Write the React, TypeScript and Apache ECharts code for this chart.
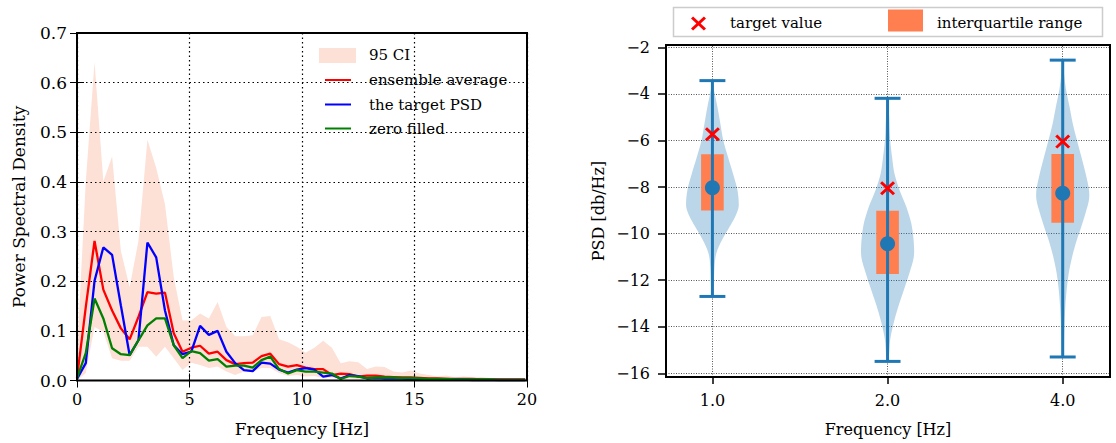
import React, { useEffect, useRef } from 'react';
import * as echarts from 'echarts';

const FONT = 'DejaVu Serif';

// ---------- left panel data ----------
const freqHz = [0, 0.39, 0.78, 1.17, 1.56, 1.95, 2.34, 2.73, 3.13, 3.52, 3.91, 4.30, 4.69, 5.08, 5.47, 5.86, 6.25, 6.64, 7.03, 7.42, 7.81, 8.20, 8.59, 8.98, 9.38, 9.77, 10.16, 10.55, 10.94, 11.33, 11.72, 12.11, 12.50, 12.89, 13.28, 13.67, 14.06, 14.45, 14.84, 15.23, 15.63, 16.02, 16.41, 16.80, 17.19, 17.58, 17.97, 18.36, 18.75, 19.14, 19.53, 19.92];

const ensembleAverage = [0.005, 0.148, 0.281, 0.183, 0.141, 0.105, 0.083, 0.128, 0.178, 0.175,
  0.177, 0.095, 0.058, 0.066, 0.07, 0.054, 0.058, 0.041, 0.033, 0.035,
  0.036, 0.049, 0.054, 0.033, 0.028, 0.031, 0.026, 0.023, 0.023, 0.011,
  0.014, 0.013, 0.008, 0.01, 0.01, 0.008, 0.007, 0.006, 0.006, 0.005,
  0.004, 0.004, 0.003, 0.003, 0.003, 0.003, 0.002, 0.002, 0.002, 0.002, 0.002, 0.002];

const targetPsd = [0.003, 0.035, 0.201, 0.268, 0.253, 0.151, 0.051, 0.081, 0.278, 0.248,
  0.141, 0.071, 0.053, 0.058, 0.11, 0.092, 0.1, 0.058, 0.035, 0.021,
  0.019, 0.036, 0.034, 0.022, 0.016, 0.022, 0.025, 0.022, 0.008, 0.011,
  0.004, 0.011, 0.009, 0.004, 0.005, 0.004, 0.004, 0.004, 0.003, 0.003,
  0.002, 0.002, 0.002, 0.002, 0.002, 0.001, 0.001, 0.001, 0.001, 0.001, 0.001, 0.001];

const zeroFilled = [0.005, 0.055, 0.165, 0.125, 0.065, 0.053, 0.051, 0.081, 0.111, 0.125,
  0.125, 0.071, 0.045, 0.059, 0.055, 0.04, 0.043, 0.028, 0.03, 0.03,
  0.026, 0.041, 0.048, 0.023, 0.014, 0.021, 0.018, 0.018, 0.016, 0.014,
  0.003, 0.009, 0.008, 0.005, 0.006, 0.006, 0.006, 0.005, 0.005, 0.004,
  0.003, 0.003, 0.003, 0.002, 0.002, 0.002, 0.002, 0.002, 0.001, 0.001, 0.001, 0.001];

const ciUpper = [0.05, 0.40, 0.641, 0.401, 0.451, 0.261, 0.188, 0.281, 0.485, 0.428,
  0.355, 0.208, 0.121, 0.121, 0.135, 0.125, 0.158, 0.108, 0.089, 0.089,
  0.091, 0.128, 0.13, 0.083, 0.077, 0.068, 0.056, 0.066, 0.08, 0.066,
  0.035, 0.039, 0.037, 0.023, 0.028, 0.027, 0.018, 0.016, 0.02, 0.014,
  0.011, 0.008, 0.01, 0.006, 0.008, 0.006, 0.007, 0.005, 0.005, 0.004, 0.004, 0.003];

const ciLower = [0, 0.015, 0.108, 0.098, 0.045, 0.04, 0.04, 0.068, 0.068, 0.048,
  0.068, 0.045, 0.021, 0.036, 0.031, 0.025, 0.028, 0.018, 0.011, 0.018,
  0.018, 0.025, 0.025, 0.015, 0.009, 0.011, 0.008, 0.009, 0.005, 0.006,
  0.002, 0.004, 0.003, 0.002, 0.002, 0.002, 0.001, 0.001, 0.001, 0.001,
  0.001, 0.001, 0.001, 0.001, 0.001, 0.001, 0.001, 0.001, 0.001, 0.001, 0.001, 0.001];

const legendLeft = ['95 CI', 'ensemble average', 'the target PSD', 'zero filled'];

// ---------- right panel data ----------
const violinLabels = ['1.0', '2.0', '4.0'];
const violinPositions = [1, 2, 3];
const whiskerMin = [-12.7, -15.49, -15.3];
const whiskerMax = [-3.43, -4.19, -2.55];
const iqrLower = [-9.01, -11.74, -9.53];
const iqrUpper = [-6.59, -9.02, -6.58];
const medianValue = [-8.03, -10.44, -8.27];
const targetValue = [-5.73, -8.05, -6.05];
const psdTicks = [-16, -14, -12, -10, -8, -6, -4, -2];

// violin outlines: level (dB/Hz) and relative half width
const violinProfileY = [
  [-3.43, -3.83, -4.55, -5.26, -5.98, -6.70, -7.41, -8.12, -8.84, -9.27, -9.70, -10.27, -10.84, -11.42, -12.70],
  [-4.19, -4.98, -5.98, -6.70, -7.41, -8.12, -8.84, -9.55, -10.27, -10.99, -11.70, -12.42, -13.13, -13.85, -14.56, -15.49],
  [-2.55, -3.12, -3.83, -4.55, -5.26, -5.98, -6.70, -7.41, -8.12, -8.55, -9.12, -9.70, -10.27, -10.99, -11.70, -12.42, -13.13, -14.13, -15.30],
];
const violinProfileW = [
  [0.01, 0.06, 0.19, 0.30, 0.41, 0.59, 0.78, 0.95, 1.0, 0.87, 0.66, 0.37, 0.15, 0.08, 0.03],
  [0.01, 0.06, 0.10, 0.17, 0.26, 0.45, 0.71, 0.90, 0.99, 1.0, 0.83, 0.62, 0.41, 0.23, 0.10, 0.03],
  [0.01, 0.05, 0.13, 0.26, 0.38, 0.54, 0.71, 0.87, 1.0, 1.0, 0.87, 0.71, 0.54, 0.36, 0.23, 0.15, 0.10, 0.06, 0.03],
];
const legendRight = ['target value', 'interquartile range'];

const VIOLIN_HALF = 0.15;
const IQR_HALF = 0.0645;
const CAP_HALF = 0.074;
const BAND_COLOR = '#fde0d6';
const BLUE = '#1f77b4';
const CORAL = '#ff7f50';
const X_PATH = 'path://M0,14L14,0L50,36L86,0L100,14L64,50L100,86L86,100L50,64L14,100L0,86L36,50Z';
const X_PTS = [[0, 14], [14, 0], [50, 36], [86, 0], [100, 14], [64, 50], [100, 86], [86, 100], [50, 64], [14, 100], [0, 86], [36, 50]];

const minus = (v: number) => (v < 0 ? '\u2212' + Math.abs(v) : String(v));

function buildOption() {
  const pairs = (ys: number[]) => freqHz.map((f, i) => [f, ys[i]]);
  const lineSeries = (name: string, ys: number[], color: string) => ({
    name, type: 'line', xAxisIndex: 0, yAxisIndex: 0, data: pairs(ys), symbol: 'none',
    lineStyle: { color, width: 2.3 }, itemStyle: { color }, z: 4,
  });

  const legendX = 369;
  const rows = [55, 80, 104.5, 128.5];
  const lineColors = ['#ff0000', '#0000ff', '#008000'];

  const graphic: any[] = [
    { type: 'rect', shape: { x: 319, y: 48, width: 37, height: 15 }, style: { fill: BAND_COLOR }, z: 5 },
    ...legendLeft.map((t, i) => ({
      type: 'text', x: legendX, y: rows[i], z: 5,
      style: { text: t, fill: '#000', font: `15px "${FONT}"`, textVerticalAlign: 'middle' },
    })),
    ...lineColors.map((c, i) => ({
      type: 'line', z: 5, shape: { x1: 325, y1: rows[i + 1], x2: 351, y2: rows[i + 1] }, style: { stroke: c, lineWidth: 2 },
    })),
    // right legend
    { type: 'rect', shape: { x: 673.5, y: 7.5, width: 429, height: 29 }, style: { fill: '#fff', stroke: '#cccccc', lineWidth: 1.5 }, z: 10 },
    { type: 'polygon', shape: { points: X_PTS.map(p => [691 + p[0] * 0.15, 16.5 + p[1] * 0.14]) }, style: { fill: '#ff0000' }, z: 11 },
    { type: 'text', x: 730, y: 22.5, style: { text: legendRight[0], fill: '#000', font: `15px "${FONT}"`, textVerticalAlign: 'middle' }, z: 11 },
    { type: 'rect', shape: { x: 888, y: 9.5, width: 35, height: 22 }, style: { fill: CORAL }, z: 11 },
    { type: 'text', x: 937, y: 22.5, style: { text: legendRight[1], fill: '#000', font: `15px "${FONT}"`, textVerticalAlign: 'middle' }, z: 11 },
  ];

  return {
    animation: false,
    textStyle: { fontFamily: FONT },
    graphic,
    grid: [
      { left: 77, top: 33, width: 450, height: 347.5, show: true, borderColor: '#000', borderWidth: 2, backgroundColor: 'transparent', z: 6 },
      { left: 666, top: 45, width: 444, height: 332, show: true, borderColor: '#000', borderWidth: 2, backgroundColor: 'transparent', z: 6 },
    ],
    xAxis: [
      {
        gridIndex: 0, type: 'value', min: 0, max: 20, interval: 5, z: 3,
        axisLine: { show: false },
        axisTick: { inside: true, length: 7, lineStyle: { color: '#000', width: 1 } },
        axisLabel: { color: '#000', fontSize: 16, margin: 11, fontFamily: FONT },
        splitLine: { show: true, lineStyle: { color: '#000', type: [1.5, 3], width: 1.2 } },
        name: 'Frequency [Hz]', nameLocation: 'middle', nameGap: 40,
        nameTextStyle: { color: '#000', fontSize: 17, fontFamily: FONT },
      },
      {
        gridIndex: 0, type: 'value', position: 'top', min: 0, max: 20, interval: 5, z: 3,
        axisLine: { show: false },
        axisTick: { inside: true, length: 7, lineStyle: { color: '#000', width: 1 } },
        axisLabel: { show: false }, splitLine: { show: false },
      },
      {
        gridIndex: 1, type: 'value', min: 0.735, max: 3.27,
        axisLine: { show: false },
        axisTick: { show: true, inside: false, length: 7, customValues: violinPositions, lineStyle: { color: '#000', width: 1.5 } },
        axisLabel: {
          color: '#000', fontSize: 16, margin: 15, fontFamily: FONT, customValues: violinPositions,
          formatter: (v: number) => violinLabels[violinPositions.indexOf(Math.round(v))] ?? '',
        },
        splitLine: { show: false },
        name: 'Frequency [Hz]', nameLocation: 'middle', nameGap: 44,
        nameTextStyle: { color: '#000', fontSize: 16, fontFamily: FONT },
      },
    ],
    yAxis: [
      {
        gridIndex: 0, type: 'value', min: 0, max: 0.7, interval: 0.1, z: 3,
        axisLine: { show: false },
        axisTick: { inside: true, length: 7, lineStyle: { color: '#000', width: 1 } },
        axisLabel: { color: '#000', fontSize: 17, margin: 10, fontFamily: FONT, formatter: (v: number) => v.toFixed(1) },
        splitLine: { show: true, lineStyle: { color: '#000', type: [1.5, 3], width: 1.2 } },
        name: 'Power Spectral Density', nameLocation: 'middle', nameGap: 50,
        nameTextStyle: { color: '#000', fontSize: 17, fontFamily: FONT },
      },
      {
        gridIndex: 0, type: 'value', position: 'right', min: 0, max: 0.7, interval: 0.1, z: 3,
        axisLine: { show: false },
        axisTick: { inside: true, length: 7, lineStyle: { color: '#000', width: 1 } },
        axisLabel: { show: false }, splitLine: { show: false },
      },
      {
        gridIndex: 1, type: 'value', min: -16.16, max: -1.9,
        axisLine: { show: false },
        axisTick: { show: true, inside: false, length: 8, customValues: psdTicks, lineStyle: { color: '#000', width: 1.5 } },
        axisLabel: { color: '#000', fontSize: 16, margin: 16, fontFamily: FONT, customValues: psdTicks, formatter: (v: number) => minus(v) },
        splitLine: { show: false },
        name: 'PSD [db/Hz]', nameLocation: 'middle', nameGap: 60,
        nameTextStyle: { color: '#000', fontSize: 16, fontFamily: FONT },
      },
    ],
    series: [
      {
        name: legendLeft[0], type: 'custom', xAxisIndex: 0, yAxisIndex: 0, z: 1,
        data: freqHz.map((f, i) => [f, ciLower[i], ciUpper[i]]),
        renderItem: (params: any, api: any) => {
          if (params.dataIndex !== 0) return null;
          const upper = freqHz.map((f, i) => api.coord([f, ciUpper[i]]));
          const lower = freqHz.map((f, i) => api.coord([f, ciLower[i]])).reverse();
          return { type: 'polygon', shape: { points: upper.concat(lower) }, style: { fill: BAND_COLOR } };
        },
      },
      lineSeries(legendLeft[1], ensembleAverage, '#ff0000'),
      lineSeries(legendLeft[2], targetPsd, '#0000ff'),
      lineSeries(legendLeft[3], zeroFilled, '#008000'),
      {
        name: 'violins', type: 'custom', xAxisIndex: 2, yAxisIndex: 2, z: 2,
        data: violinPositions.map((x, i) => [x, whiskerMin[i], whiskerMax[i]]),
        renderItem: (params: any, api: any) => {
          const i = params.dataIndex;
          const x = violinPositions[i];
          const ys = violinProfileY[i];
          const ws = violinProfileW[i];
          const left = ys.map((y, k) => api.coord([x - ws[k] * VIOLIN_HALF, y]));
          const right = ys.map((y, k) => api.coord([x + ws[k] * VIOLIN_HALF, y])).reverse();
          return {
            type: 'polygon', shape: { points: left.concat(right), smooth: 0.3 },
            style: { fill: 'rgba(31,119,180,0.3)' },
          };
        },
        markLine: {
          silent: true, symbol: 'none', label: { show: false }, z: 1,
          lineStyle: { color: '#555', type: [1, 1.5], width: 1 },
          data: [
            ...psdTicks.map(v => ({ yAxis: v })),
            ...violinPositions.map(v => ({ xAxis: v })),
          ],
        },
      },
      {
        name: 'iqr', type: 'custom', xAxisIndex: 2, yAxisIndex: 2, z: 3,
        data: violinPositions.map((x, i) => [x, iqrLower[i], iqrUpper[i]]),
        renderItem: (params: any, api: any) => {
          const i = params.dataIndex;
          const x = violinPositions[i];
          const p1 = api.coord([x - IQR_HALF, iqrUpper[i]]);
          const p2 = api.coord([x + IQR_HALF, iqrLower[i]]);
          return {
            type: 'rect', shape: { x: p1[0], y: p1[1], width: p2[0] - p1[0], height: p2[1] - p1[1] },
            style: { fill: CORAL },
          };
        },
      },
      {
        name: 'whiskers', type: 'custom', xAxisIndex: 2, yAxisIndex: 2, z: 4,
        data: violinPositions.map((x, i) => [x, whiskerMin[i], whiskerMax[i]]),
        renderItem: (params: any, api: any) => {
          const i = params.dataIndex;
          const x = violinPositions[i];
          const top = api.coord([x, whiskerMax[i]]);
          const bot = api.coord([x, whiskerMin[i]]);
          const capL = api.coord([x - CAP_HALF, whiskerMax[i]]);
          const capR = api.coord([x + CAP_HALF, whiskerMax[i]]);
          const capL2 = api.coord([x - CAP_HALF, whiskerMin[i]]);
          const capR2 = api.coord([x + CAP_HALF, whiskerMin[i]]);
          const st = { stroke: BLUE, lineWidth: 3 };
          return {
            type: 'group',
            children: [
              { type: 'line', shape: { x1: top[0], y1: top[1], x2: bot[0], y2: bot[1] }, style: st },
              { type: 'line', shape: { x1: capL[0], y1: capL[1], x2: capR[0], y2: capR[1] }, style: st },
              { type: 'line', shape: { x1: capL2[0], y1: capL2[1], x2: capR2[0], y2: capR2[1] }, style: st },
            ],
          };
        },
      },
      {
        name: 'median', type: 'scatter', xAxisIndex: 2, yAxisIndex: 2, z: 5,
        data: violinPositions.map((x, i) => [x, medianValue[i]]),
        symbol: 'circle', symbolSize: 15, itemStyle: { color: BLUE, opacity: 1 },
      },
      {
        name: legendRight[0], type: 'scatter', xAxisIndex: 2, yAxisIndex: 2, z: 6,
        data: violinPositions.map((x, i) => [x, targetValue[i]]),
        symbol: X_PATH, symbolSize: [15, 14], itemStyle: { color: '#ff0000', opacity: 1 },
      },
    ],
  };
}

export default function App() {
  const ref = useRef<HTMLDivElement>(null);
  useEffect(() => {
    if (!ref.current) return;
    const chart = echarts.init(ref.current, null, { renderer: 'svg' });
    chart.setOption(buildOption() as any);
    return () => chart.dispose();
  }, []);
  return <div ref={ref} style={{ position: 'absolute', left: 0, top: 0, width: 1116, height: 443, background: '#fff' }} />;
}
